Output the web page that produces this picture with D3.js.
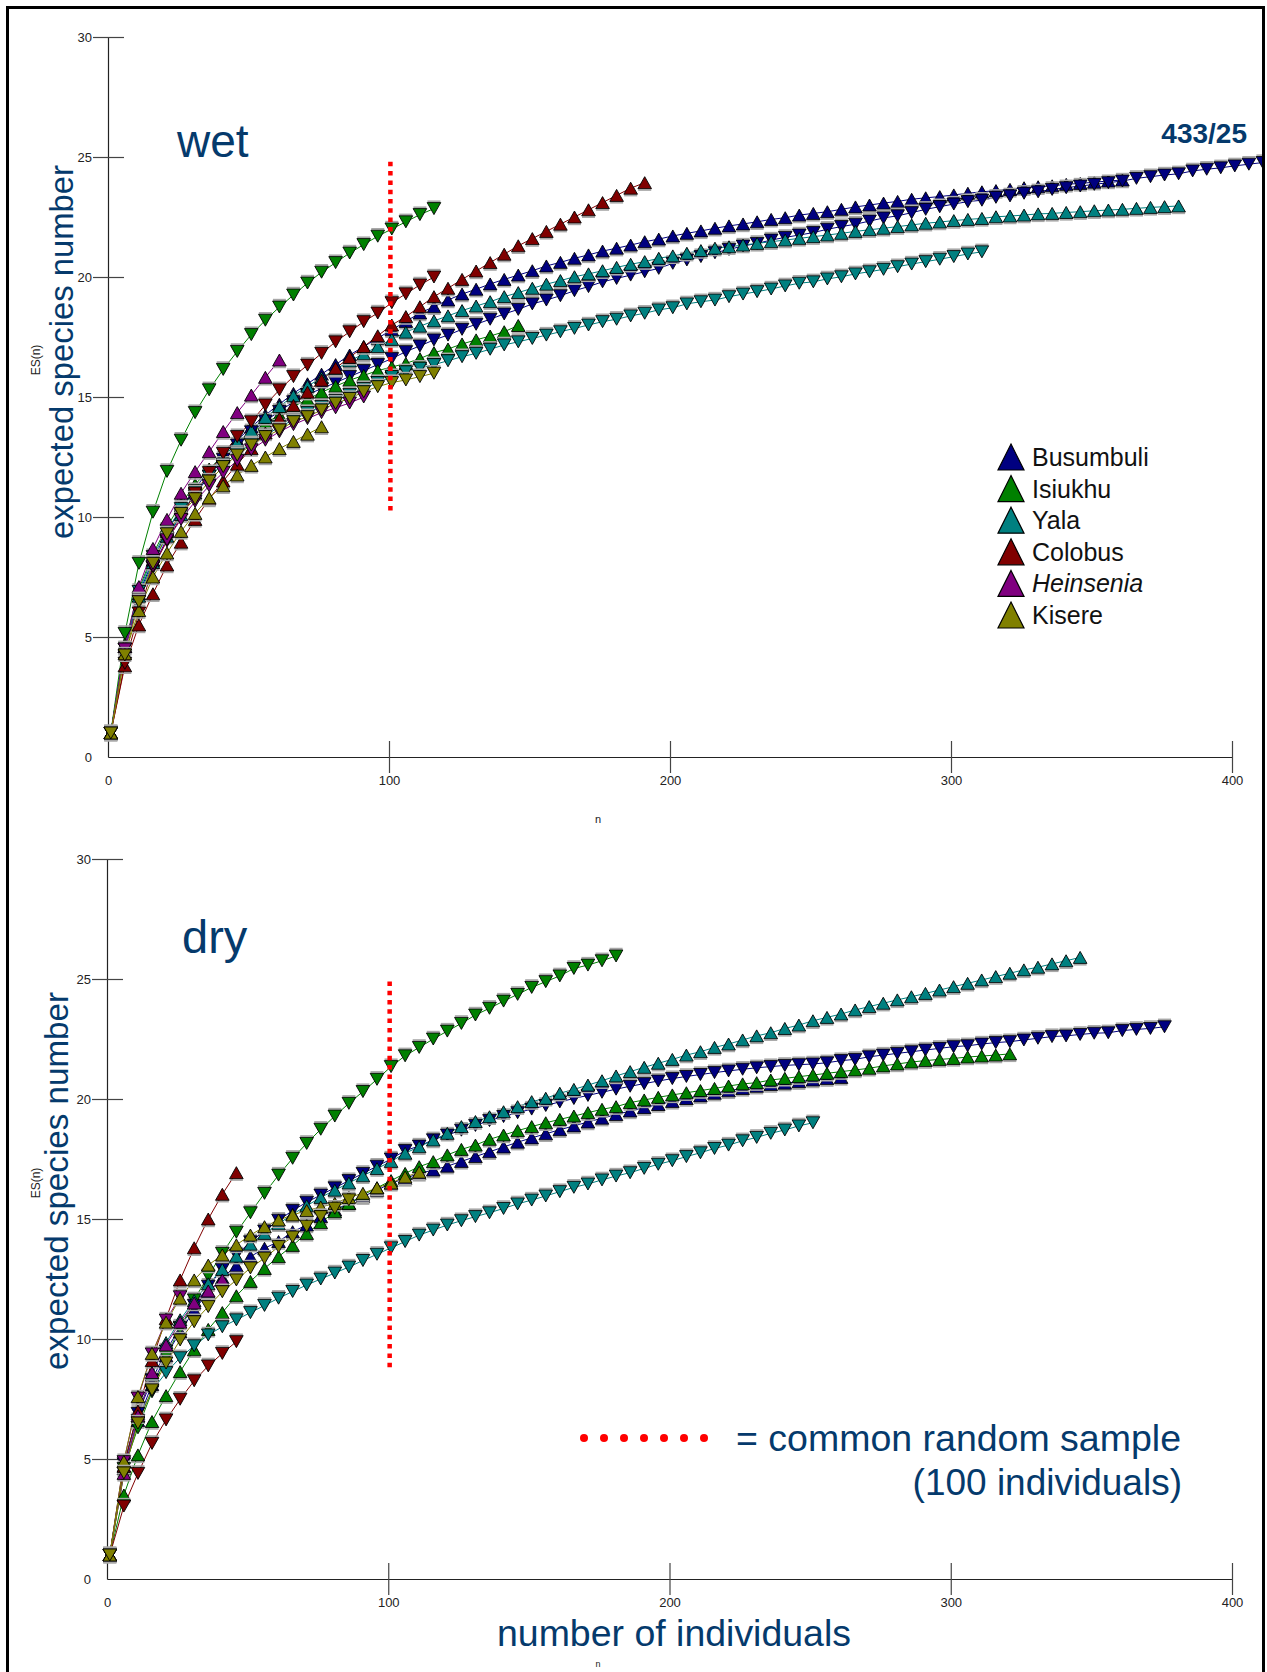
<!DOCTYPE html>
<html><head><meta charset="utf-8">
<script src="https://cdn.jsdelivr.net/npm/d3@7"></script>
<style>body{margin:0;background:#fff}svg{display:block}</style>
</head><body>
<svg id="c" width="1267" height="1672"></svg>
<script>
// ---------------- DATA ----------------
const sampleSizes = [1,6,11,16,21,26,31,36,41,46,51,56,61,66,71,76,81,86,91,96,101,106,111,116,121,126,131,136,141,146,151,156,161,166,171,176,181,186,191,196,201,206,211,216,221,226,231,236,241,246,251,256,261,266,271,276,281,286,291,296,301,306,311,316,321,326,331,336,341,346,351,356,361,366,371,376,381,386,391,396,401,406,411];
const xTicks = [0,100,200,300,400];
const yTicks = [0,5,10,15,20,25,30];
const siteNames = ["Busumbuli","Isiukhu","Yala","Colobus","Heinsenia","Kisere"];
const siteColors = ["#000080","#008000","#008080","#800000","#800080","#808000"];
const commonSample = 100.5;
const wetCommonLine = [10.2, 24.8];
const dryCommonLine = [8.7, 24.9];

// wet season
const wetBusumbuliUp = [1,4.6,6.8,8.2,9.4,10.35,11.2,11.95,12.6,13.2,13.75,14.25,14.7,15.15,15.55,15.95,16.35,16.75,17.1,17.45,17.8,18.15,18.5,18.76,19.04,19.29,19.49,19.71,19.9,20.08,20.26,20.46,20.61,20.78,20.92,21.08,21.2,21.33,21.47,21.58,21.71,21.82,21.92,22.03,22.13,22.21,22.3,22.4,22.47,22.58,22.65,22.72,22.82,22.92,23.0,23.08,23.15,23.24,23.3,23.35,23.42,23.49,23.55,23.6,23.65,23.72,23.76,23.8,23.86,23.9,23.95,24.0,24.04];
const wetBusumbuliDown = [1,4.5,6.5,7.9,9.1,10.1,10.95,11.7,12.4,13.0,13.55,14.0,14.4,14.8,15.1,15.35,15.6,15.85,16.1,16.35,16.6,16.89,17.13,17.38,17.58,17.82,18.03,18.24,18.46,18.65,18.88,19.04,19.22,19.43,19.6,19.8,19.94,20.08,20.22,20.36,20.57,20.71,20.85,21.01,21.15,21.29,21.4,21.54,21.65,21.75,21.85,21.99,22.1,22.2,22.33,22.46,22.55,22.68,22.82,22.93,23.04,23.14,23.2,23.32,23.38,23.49,23.55,23.65,23.72,23.79,23.86,23.93,24.0,24.11,24.18,24.25,24.3,24.42,24.49,24.55,24.63,24.7,24.77];
const wetIsiukhuUp = [1,4.7,7.0,8.45,9.6,10.55,11.35,12.0,12.55,13.05,13.5,13.9,14.25,14.6,14.9,15.2,15.45,15.7,15.9,16.1,16.25,16.4,16.6,16.85,17.0,17.21,17.38,17.54,17.72,17.98];
const wetIsiukhuDown = [1,5.15,8.07,10.2,11.9,13.2,14.35,15.3,16.15,16.9,17.6,18.2,18.75,19.25,19.75,20.2,20.6,21.0,21.35,21.7,22.0,22.3,22.6,22.85];
const wetYalaUp = [1,4.6,6.7,8.1,9.2,10.1,11.0,11.8,12.5,13.1,13.6,14.15,14.6,15.05,15.45,15.8,16.15,16.5,16.8,17.1,17.4,17.7,17.95,18.17,18.38,18.6,18.79,18.97,19.18,19.35,19.53,19.7,19.85,20.01,20.13,20.26,20.4,20.53,20.64,20.78,20.88,20.99,21.1,21.2,21.26,21.33,21.4,21.47,21.54,21.61,21.68,21.75,21.82,21.9,21.97,22.03,22.1,22.17,22.24,22.29,22.35,22.4,22.44,22.51,22.54,22.58,22.63,22.65,22.69,22.72,22.76,22.79,22.82,22.86,22.9,22.93,22.96];
const wetYalaDown = [1,4.5,6.9,8.35,9.45,10.35,11.1,11.7,12.2,12.65,13.05,13.4,13.75,14.05,14.35,14.6,14.85,15.1,15.35,15.6,15.85,16.05,16.2,16.35,16.51,16.68,16.82,16.99,17.17,17.3,17.44,17.58,17.72,17.86,18.0,18.14,18.24,18.38,18.49,18.63,18.72,18.88,18.97,19.04,19.18,19.29,19.39,19.5,19.63,19.74,19.8,19.92,20.01,20.13,20.22,20.32,20.43,20.54,20.64,20.74,20.85,20.96,21.05];
const wetColobusUp = [1,3.8,5.5,6.8,8.0,8.95,9.9,10.75,11.5,12.2,12.85,13.5,14.1,14.65,15.2,15.7,16.2,16.65,17.1,17.55,18.0,18.35,18.76,19.18,19.53,19.9,20.25,20.6,20.95,21.3,21.6,21.9,22.2,22.5,22.8,23.1,23.4,23.7,23.93];
const wetColobusDown = [1,3.9,6.0,7.9,9.0,10.0,11.0,11.85,12.65,13.35,13.97,14.67,15.3,15.85,16.33,16.82,17.3,17.72,18.14,18.5,18.93,19.3,19.67,20.0];
const wetHeinseniaUp = [1,4.6,7.1,8.69,9.9,10.99,11.89,12.72,13.56,14.35,15.08,15.82,16.54];
const wetHeinseniaDown = [1,4.5,6.55,7.95,9.05,9.9,10.65,11.3,11.85,12.35,12.8,13.2,13.55,13.85,14.1,14.35,14.55,14.75,15.0];
const wetKisereUp = [1,4.3,6.1,7.5,8.5,9.4,10.15,10.8,11.3,11.75,12.15,12.5,12.85,13.15,13.45,13.76];
const wetKisereDown = [1,4.25,6.47,8.07,9.3,10.15,10.76,11.5,12.1,12.58,13.0,13.35,13.63,13.97,14.18,14.46,14.74,14.94,15.22,15.43,15.6,15.71,15.85,15.99];

// dry season
const dryBusumbuliUp = [1,4.6,6.6,8.1,9.3,10.3,11.2,11.95,12.55,13.05,13.43,13.78,14.06,14.47,14.75,15.1,15.38,15.65,15.93,16.2,16.49,16.69,16.9,17.04,17.2,17.4,17.6,17.8,18.0,18.2,18.38,18.55,18.72,18.88,19.04,19.2,19.35,19.5,19.64,19.77,19.9,20.02,20.13,20.24,20.34,20.44,20.53,20.6,20.66,20.72,20.79,20.85,20.9];
const dryBusumbuliDown = [1,4.8,6.9,8.3,9.5,10.5,11.4,12.2,12.9,13.5,14.05,14.5,14.95,15.35,15.7,16.0,16.3,16.6,16.9,17.2,17.5,17.85,18.04,18.3,18.5,18.7,18.9,19.1,19.27,19.43,19.58,19.73,19.88,20.02,20.15,20.28,20.41,20.53,20.64,20.75,20.85,20.94,21.02,21.1,21.17,21.24,21.3,21.35,21.4,21.43,21.46,21.51,21.6,21.65,21.76,21.83,21.9,21.97,22.04,22.11,22.18,22.22,22.29,22.35,22.39,22.46,22.53,22.6,22.63,22.69,22.74,22.76,22.85,22.9,22.94,23.01];
const dryIsiukhuUp = [1,3.5,5.17,6.56,7.64,8.64,9.55,10.4,11.1,11.8,12.4,12.94,13.43,13.9,14.4,14.85,15.3,15.65,16.0,16.3,16.6,16.9,17.18,17.39,17.67,17.9,18.08,18.32,18.5,18.68,18.85,19.01,19.15,19.29,19.43,19.57,19.68,19.85,19.96,20.07,20.17,20.26,20.35,20.44,20.54,20.63,20.68,20.79,20.86,20.93,21.0,21.07,21.14,21.21,21.28,21.38,21.46,21.54,21.6,21.65,21.69,21.75,21.79,21.83,21.88];
const dryIsiukhuDown = [1,4.6,6.3,7.8,9.29,10.46,11.63,12.63,13.57,14.45,15.26,16.07,16.83,17.53,18.15,18.74,19.29,19.82,20.31,20.82,21.35,21.8,22.15,22.5,22.83,23.15,23.5,23.78,24.08,24.36,24.65,24.89,25.13,25.44,25.58,25.76,25.96];
const dryYalaUp = [1,4.7,6.9,8.5,9.85,10.8,11.6,12.3,12.9,13.45,13.95,14.4,14.8,15.2,15.55,15.9,16.2,16.5,16.8,17.1,17.4,17.74,18.01,18.29,18.57,18.85,19.06,19.26,19.47,19.68,19.89,20.03,20.24,20.4,20.58,20.76,20.96,21.14,21.32,21.49,21.65,21.83,21.97,22.15,22.29,22.46,22.63,22.76,22.94,23.08,23.26,23.4,23.54,23.71,23.85,23.99,24.13,24.26,24.4,24.54,24.68,24.82,24.96,25.1,25.24,25.38,25.49,25.63,25.76,25.9];
const dryYalaDown = [1,4.4,6.6,7.85,8.6,9.22,9.72,10.17,10.51,10.8,11.1,11.4,11.7,11.98,12.25,12.5,12.75,13.0,13.27,13.53,13.8,14.06,14.33,14.54,14.75,14.93,15.1,15.26,15.44,15.63,15.79,15.96,16.14,16.32,16.46,16.63,16.79,16.93,17.11,17.28,17.43,17.6,17.76,17.94,18.08,18.26,18.4,18.57,18.71,18.88,19.01];
const dryColobusUp = [1,4.7,7.0,9.1,10.85,12.46,13.8,15.0,16.03,16.93];
const dryColobusDown = [1,3.04,4.4,5.65,6.63,7.49,8.26,8.88,9.4,9.89];
const dryHeinseniaUp = [1,4.4,6.8,8.6,9.75,10.7,11.5,12.0,12.46];
const dryHeinseniaDown = [1,4.89,7.54,9.38,10.79,11.76];
const dryKisereUp = [1,4.9,7.6,9.4,10.7,11.7,12.46,13.08,13.5,13.92,14.33,14.68,14.96,15.17,15.35,15.5,15.65,15.9,16.07,16.3,16.5,16.75,16.95];
const dryKisereDown = [1,4.42,6.5,7.88,9.0,9.96,10.72,11.35,11.97,12.46,12.96,13.37,13.85,14.25,14.7,15.1,15.45,15.8];

// ---------------- DRAWING ----------------
const F = "'Liberation Sans', Arial, Helvetica, sans-serif";
const NAVY = "#053a6c";
const svg = d3.select("#c");

svg.append("defs").append("clipPath").attr("id","clip")
  .append("rect").attr("x",9).attr("y",9).attr("width",1253).attr("height",1660);

function triPath(up, w, h){
  return up ? `M0,${-h}L${w},${h}L${-w},${h}Z` : `M0,${h}L${w},${-h}L${-w},${-h}Z`;
}

function drawPanel(p){
  const x = d3.scaleLinear().domain([0,400]).range(p.xr);
  const y = d3.scaleLinear().domain([0,30]).range(p.yr);
  const g = svg.append("g");

  // y axis
  const ya = g.append("g").attr("transform",`translate(${p.xr[0]},0)`)
    .call(d3.axisLeft(y).tickValues(yTicks).tickSize(15).tickSizeOuter(0).tickPadding(1))
    .attr("font-family",F).attr("font-size",13);
  ya.select(".domain").attr("stroke","#222").attr("stroke-width",1.2);
  ya.selectAll(".tick line").attr("x1",16).attr("stroke","#444").attr("stroke-width",1.2)
    .filter(d=>d===0).remove();
  ya.selectAll(".tick text").attr("fill","#222");

  // x axis
  const xa = g.append("g").attr("transform",`translate(0,${p.yr[0]})`)
    .call(d3.axisBottom(x).tickValues(xTicks).tickSize(16).tickSizeOuter(0).tickPadding(3))
    .attr("font-family",F).attr("font-size",13);
  xa.select(".domain").attr("stroke","#222").attr("stroke-width",1.2);
  xa.selectAll(".tick line").attr("y1",-16).attr("stroke","#444").attr("stroke-width",1.2)
    .filter(d=>d===0).remove();
  xa.selectAll(".tick text").attr("fill","#222");

  // series
  const plot = g.append("g").attr("clip-path","url(#clip)");
  const line = d3.line().x((d,i)=>x(sampleSizes[i])).y(d=>y(d));
  p.series.forEach(s=>{
    const col = siteColors[s.site];
    plot.append("path").datum(s.values).attr("d",line)
      .attr("fill","none").attr("stroke",col).attr("stroke-width",1);
  });
  p.series.forEach(s=>{
    const col = siteColors[s.site];
    const mk = plot.append("g").selectAll("g").data(s.values).join("g")
      .attr("transform",(d,i)=>`translate(${x(sampleSizes[i])},${y(d)})`);
    mk.append("line").attr("x1",-6.5).attr("x2",6.5)
      .attr("y1",s.up?7.4:-7.4).attr("y2",s.up?7.4:-7.4)
      .attr("stroke","#a8a8a8").attr("stroke-width",1.6);
    mk.append("path").attr("d",triPath(s.up,6.8,6))
      .attr("fill",col).attr("stroke","#000").attr("stroke-width",0.9);
  });

  // common random sample line
  g.append("line").attr("x1",x(commonSample)).attr("x2",x(commonSample))
    .attr("y1",y(p.common[1])).attr("y2",y(p.common[0]))
    .attr("stroke","#ff0000").attr("stroke-width",4.5).attr("stroke-dasharray","4.5,4.8");

  // small axis-name labels
  g.append("text").attr("transform",`translate(${p.esX},${p.esY}) rotate(-90)`)
    .attr("text-anchor","middle").attr("font-family",F).attr("font-size",12).attr("fill","#222")
    .text("ES(n)");
  g.append("text").attr("x",598).attr("y",p.nY).attr("text-anchor","middle")
    .attr("font-family",F).attr("font-size",p.nSize).attr("fill","#222").text("n");

  // big y title
  g.append("text").attr("transform",`translate(${p.titleX},${p.titleY}) rotate(-90)`)
    .attr("text-anchor","middle").attr("font-family",F).attr("font-size",33).attr("fill",NAVY)
    .attr("textLength",p.titleLen).attr("lengthAdjust","spacingAndGlyphs")
    .text("expected species number");

  // season label
  g.append("text").attr("x",p.seasonX).attr("y",p.seasonY).attr("font-family",F)
    .attr("font-size",p.seasonSize).attr("fill",NAVY).text(p.season);
}

const S = (site, up, values) => ({site, up, values});

drawPanel({
  xr:[108,1232], yr:[757,37], common: wetCommonLine,
  esX:40, esY:360, nY:823, nSize:11, titleX:73, titleY:352, titleLen:374,
  season:"wet", seasonX:177, seasonY:157, seasonSize:46,
  series:[
    S(0,true,wetBusumbuliUp), S(0,false,wetBusumbuliDown),
    S(1,true,wetIsiukhuUp), S(1,false,wetIsiukhuDown),
    S(2,true,wetYalaUp), S(2,false,wetYalaDown),
    S(3,true,wetColobusUp), S(3,false,wetColobusDown),
    S(4,true,wetHeinseniaUp), S(4,false,wetHeinseniaDown),
    S(5,true,wetKisereUp), S(5,false,wetKisereDown)
  ]
});
drawPanel({
  xr:[107,1232], yr:[1579,859], common: dryCommonLine,
  esX:40, esY:1183, nY:1667, nSize:9, titleX:68, titleY:1181, titleLen:378,
  season:"dry", seasonX:182, seasonY:953, seasonSize:47,
  series:[
    S(0,true,dryBusumbuliUp), S(0,false,dryBusumbuliDown),
    S(1,true,dryIsiukhuUp), S(1,false,dryIsiukhuDown),
    S(2,true,dryYalaUp), S(2,false,dryYalaDown),
    S(3,true,dryColobusUp), S(3,false,dryColobusDown),
    S(4,true,dryHeinseniaUp), S(4,false,dryHeinseniaDown),
    S(5,true,dryKisereUp), S(5,false,dryKisereDown)
  ]
});

// "433/25"
svg.append("text").attr("x",1247).attr("y",143).attr("text-anchor","end")
  .attr("font-family",F).attr("font-weight","bold").attr("font-size",28).attr("fill",NAVY).text("433/25");

// site legend
const leg = svg.append("g");
siteNames.forEach((name,i)=>{
  const cy = 457 + i*31.6;
  leg.append("path").attr("transform",`translate(1011,${cy})`).attr("d",triPath(true,13,13))
    .attr("fill",siteColors[i]).attr("stroke","#000").attr("stroke-width",1.2);
  leg.append("text").attr("x",1032).attr("y",cy+9).attr("font-family",F).attr("font-size",25)
    .attr("fill","#111").attr("font-style", name==="Heinsenia"?"italic":"normal").text(name);
});

// red dotted legend
const dotsX = [584,604,624,644,664,684,704];
svg.append("g").selectAll("circle").data(dotsX).join("circle")
  .attr("cx",d=>d).attr("cy",1438).attr("r",4).attr("fill","#ff0000");
svg.append("text").attr("x",736).attr("y",1451).attr("font-family",F).attr("font-size",37)
  .attr("fill",NAVY).attr("textLength",445).attr("lengthAdjust","spacingAndGlyphs")
  .text("= common random sample");
svg.append("text").attr("x",1182).attr("y",1495).attr("text-anchor","end").attr("font-family",F)
  .attr("font-size",37).attr("fill",NAVY).text("(100 individuals)");

// x title
svg.append("text").attr("x",497).attr("y",1646).attr("font-family",F).attr("font-size",37)
  .attr("fill",NAVY).attr("textLength",354).attr("lengthAdjust","spacingAndGlyphs")
  .text("number of individuals");

// frame
svg.append("rect").attr("x",7.5).attr("y",7.5).attr("width",1256).attr("height",1700)
  .attr("fill","none").attr("stroke","#000").attr("stroke-width",3);
</script>
</body></html>
